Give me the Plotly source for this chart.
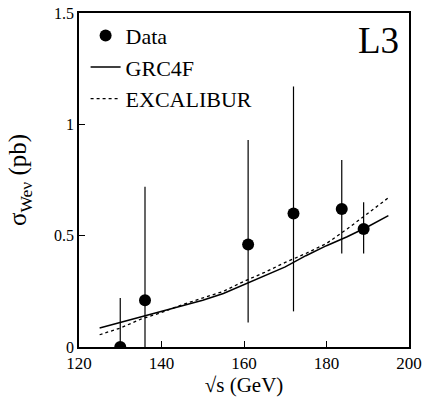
import plotly.graph_objects as go

# data points (sqrt(s) in GeV, cross section in pb)
data_x = [130, 136, 161, 172, 183.7, 189]
data_y = [0.0, 0.21, 0.46, 0.60, 0.62, 0.53]
err_up = [0.22, 0.51, 0.47, 0.57, 0.22, 0.12]
err_down = [0.0, 0.50, 0.35, 0.44, 0.20, 0.11]

# theory curves
curve_x = [125, 130, 135, 140, 145, 150, 155, 160, 165, 170, 175, 180, 185, 190, 195]
grc4f_y = [0.085, 0.11, 0.135, 0.16, 0.185, 0.21, 0.24, 0.28, 0.32, 0.36, 0.41, 0.455, 0.495, 0.54, 0.59]
excalibur_y = [0.055, 0.085, 0.125, 0.155, 0.19, 0.22, 0.25, 0.295, 0.335, 0.38, 0.42, 0.465, 0.53, 0.60, 0.67]

font = "Liberation Serif"

fig = go.Figure()
fig.add_trace(go.Scatter(
    x=data_x, y=data_y, mode="markers", name="Data",
    marker=dict(color="black", size=12),
    error_y=dict(type="data", symmetric=False, array=err_up, arrayminus=err_down,
                 color="black", thickness=1.2, width=0),
))
fig.add_trace(go.Scatter(x=curve_x, y=grc4f_y, mode="lines", name="GRC4F",
                         line=dict(color="black", width=1.5)))
fig.add_trace(go.Scatter(x=curve_x, y=excalibur_y, mode="lines", name="EXCALIBUR",
                         line=dict(color="black", width=1.3, dash="dot")))

fig.update_layout(
    width=427, height=408,
    margin=dict(l=79, r=8, t=5, b=61),
    paper_bgcolor="white", plot_bgcolor="white",
    font=dict(family=font, size=16, color="black"),
    showlegend=True,
    legend=dict(x=0.02, y=0.995, xanchor="left", yanchor="top",
                bgcolor="rgba(0,0,0,0)", font=dict(size=22, family=font),
                itemwidth=30, tracegroupgap=0),
    annotations=[dict(text="L3", xref="paper", yref="paper", x=0.975, y=0.985,
                      xanchor="right", yanchor="top", showarrow=False,
                      font=dict(size=37, family=font))],
)
fig.update_xaxes(range=[120, 200], tickvals=[120, 140, 160, 180, 200],
                 ticks="inside", ticklen=6, tickcolor="black",
                 showline=True, linecolor="black", linewidth=1.5, mirror=True,
                 showgrid=False, zeroline=False, ticklabeloverflow="allow",
                 tickfont=dict(family=font, size=17),
                 title=dict(text="√s (GeV)", font=dict(size=21, family=font), standoff=4))
fig.update_yaxes(range=[0, 1.5], tickvals=[0, 0.5, 1, 1.5], ticktext=["0", "0.5", "1", "1.5"],
                 ticks="inside", ticklen=6, tickcolor="black",
                 showline=True, linecolor="black", linewidth=1.5, mirror=True,
                 showgrid=False, zeroline=False, ticklabeloverflow="allow",
                 tickfont=dict(family=font, size=16),
                 title=dict(text="σ<sub>Weν</sub> (pb)", font=dict(size=25, family=font), standoff=20))

# drop the default page margin so the figure sits at the window's corner
fig.write_html("out.html", config={"displayModeBar": False},
               post_script="document.body.style.margin='0';")
